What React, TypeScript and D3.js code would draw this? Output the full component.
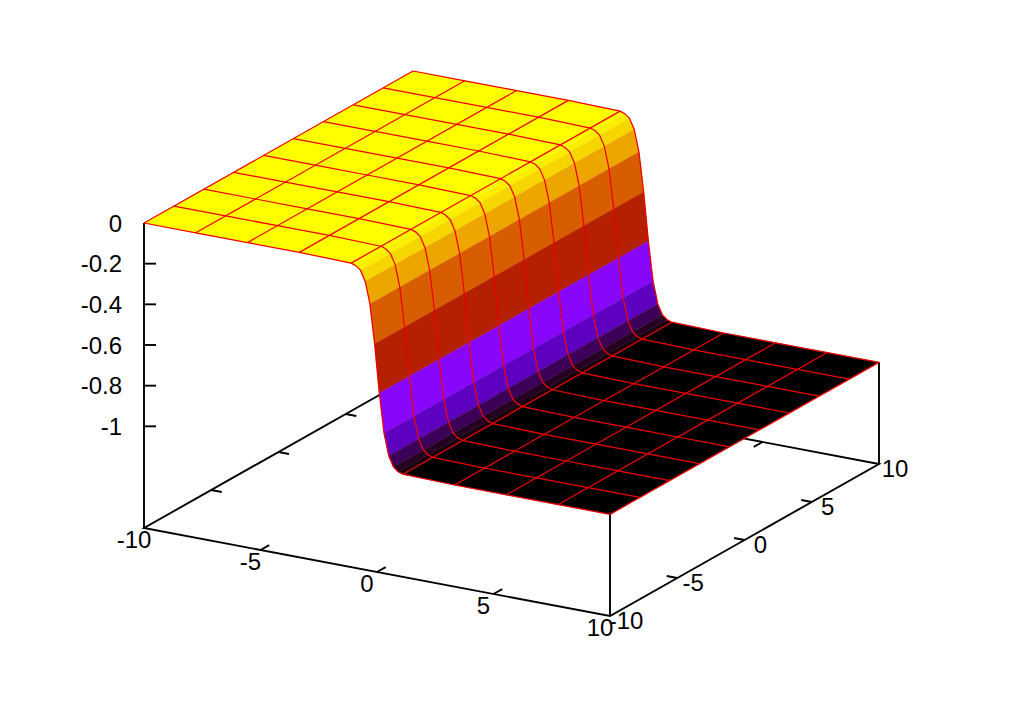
import React from 'react';
import * as d3 from 'd3';

// sampled profile of the sheet along x (constant in y)
const surfaceX = [-10, -7.778, -5.556, -3.333, -1.111, -0.909, -0.707, -0.505, -0.303, -0.101, 0.101, 0.303, 0.505, 0.707, 0.909, 1.111, 3.333, 5.556, 7.778, 10];
const surfaceZ = [0, 0, 0, 0, -0.005, -0.013, -0.032, -0.082, -0.189, -0.381, -0.619, -0.811, -0.918, -0.968, -0.987, -0.995, -1, -1, -1, -1];
// one flat colour per quad between neighbouring samples
const bandColors = ['#ffff00', '#ffff00', '#ffff00', '#ffff00', '#fef800', '#fcee00', '#f7d600', '#eda500', '#d85d00', '#b42000', '#8806fa', '#5e00bf', '#3d0059', '#260023', '#18000e', '#000000', '#000000', '#000000', '#000000'];

const isoX = [-10, -7.778, -5.556, -3.333, -1.111, 1.111, 3.333, 5.556, 7.778, 10];
const isoY = [-10, -7.778, -5.556, -3.333, -1.111, 1.111, 3.333, 5.556, 7.778, 10];

const xTicks = [-10, -5, 0, 5, 10];
const yTicks = [-10, -5, 0, 5, 10];
const zTicks = [0, -0.2, -0.4, -0.6, -0.8, -1];

const width = 1024;
const height = 715;
const origin = { x: 144, y: 528 };

const xToPx = d3.scaleLinear().domain([-10, 10]).range([0, 466]);
const xToPy = d3.scaleLinear().domain([-10, 10]).range([0, 88]);
const yToPx = d3.scaleLinear().domain([-10, 10]).range([0, 269]);
const yToPy = d3.scaleLinear().domain([-10, 10]).range([0, -152]);
const zToPy = d3.scaleLinear().domain([-1.5, 0]).range([0, -305]);
const zAt = d3.scaleLinear().domain(surfaceX).range(surfaceZ);

type P = [number, number];
const project = (x: number, y: number, z: number): P => [
  origin.x + xToPx(x) + yToPx(y),
  origin.y + xToPy(x) + yToPy(y) + zToPy(z),
];

const line = d3.line<P>();
const pathOf = (pts: P[]) => line(pts) || '';
const zBase = -1.5;
const axisColor = '#000000';
const meshColor = '#f00000';
const font = '"Liberation Sans", Arial, sans-serif';

export default function App() {
  return (
    <svg
      width={width}
      height={height}
      style={{ position: 'absolute', left: 0, top: 0, background: '#fff' }}
      fontFamily={font}
      fontSize={24}
      fill="#000"
    >
      {/* box edges, the sheet covers the back ones */}
      <g stroke={axisColor} strokeWidth={1.9} fill="none">
        <path d={pathOf([project(-10, 10, zBase), project(-10, -10, zBase), project(10, -10, zBase), project(10, 10, zBase), project(-10, 10, zBase)])} />
        <path d={pathOf([project(-10, -10, zBase), project(-10, -10, 0)])} />
        <path d={pathOf([project(10, -10, zBase), project(10, -10, -1)])} />
        <path d={pathOf([project(10, 10, zBase), project(10, 10, -1)])} />
        {zTicks.map(t => {
          const p = project(-10, -10, t);
          return <path key={t} d={pathOf([p, [p[0] + 12, p[1]]])} />;
        })}
        {xTicks.slice(1, -1).map(t => (
          <g key={t}>
            <path d={pathOf([project(t, -10, zBase), project(t, -9.35, zBase)])} />
            <path d={pathOf([project(t, 10, zBase), project(t, 9.35, zBase)])} />
          </g>
        ))}
        {yTicks.slice(1, -1).map(t => (
          <g key={t}>
            <path d={pathOf([project(10, t, zBase), project(9.55, t, zBase)])} />
            <path d={pathOf([project(-10, t, zBase), project(-9.55, t, zBase)])} />
          </g>
        ))}
      </g>

      {/* pm3d quads */}
      {bandColors.map((c, i) => (
        <path
          key={i}
          d={pathOf([
            project(surfaceX[i], -10, surfaceZ[i]),
            project(surfaceX[i + 1], -10, surfaceZ[i + 1]),
            project(surfaceX[i + 1], 10, surfaceZ[i + 1]),
            project(surfaceX[i], 10, surfaceZ[i]),
          ]) + 'Z'}
          fill={c}
          stroke={c}
          strokeWidth={0.4}
        />
      ))}

      {/* mesh lines */}
      <g stroke={meshColor} strokeWidth={1.25} fill="none">
        {isoY.map(y => (
          <path key={y} d={pathOf(surfaceX.map((x, i) => project(x, y, surfaceZ[i])))} />
        ))}
        {isoX.map(x => (
          <path key={x} d={pathOf([project(x, -10, zAt(x)), project(x, 10, zAt(x))])} />
        ))}
      </g>

      {/* tick labels */}
      {zTicks.map(t => {
        const p = project(-10, -10, t);
        return (
          <text key={t} x={p[0] - 22} y={p[1] + 8.5} textAnchor="end">
            {String(t)}
          </text>
        );
      })}
      {xTicks.map(t => {
        const p = project(t, -10, zBase);
        return (
          <text key={t} x={p[0] - 10} y={p[1] + 20} textAnchor="middle">
            {String(t)}
          </text>
        );
      })}
      {yTicks.map(t => {
        const p = project(10, t, zBase);
        return (
          <text key={t} x={p[0] + 16} y={p[1] + 12.5} textAnchor="middle">
            {String(t)}
          </text>
        );
      })}
    </svg>
  );
}
